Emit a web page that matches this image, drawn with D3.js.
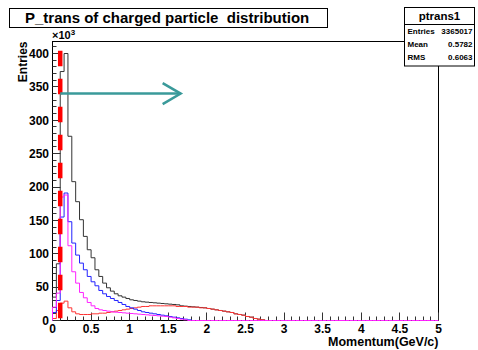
<!DOCTYPE html>
<html>
<head>
<meta charset="utf-8">
<script src="https://cdn.jsdelivr.net/npm/d3@7"></script>
<style>
  html, body { margin: 0; padding: 0; background: #fff; }
  svg { display: block; }
  text { font-family: "Liberation Sans", Arial, Helvetica, sans-serif; white-space: pre; }
</style>
</head>
<body>
<svg id="chart" width="478" height="350"></svg>
<script>
// Transverse momentum spectra, 100 bins of 0.05 GeV/c from 0 to 5, contents in units of 10^3.
const binWidth = 0.05;
const allCharged = [35, 85, 373, 400, 276, 208, 178, 151, 126, 106, 94, 76, 66, 56, 49, 44, 40, 37, 35, 33,
  31, 30, 29, 28, 27.5, 27, 26.5, 26, 25.5, 25, 24.5, 24, 23.5, 22, 21.5, 21, 20.5, 20, 19.5, 19,
  18, 17, 16, 15, 14, 13, 12, 10, 9, 8, 6, 5, 3, 2, 1, 0];
const seriesBlue = [12, 30, 155, 191, 148, 116, 98, 86, 76, 66, 58, 52, 45, 40, 36, 33, 30, 27, 24, 21,
  19, 17, 15, 13, 12, 11, 10, 9, 8, 7, 6, 5, 4, 3, 2, 1];
const seriesMagenta = [20, 41, 185, 188, 112, 73, 56, 42, 34, 27, 22, 18, 16, 15, 14, 13, 12.5, 12, 11.5, 11,
  10.5, 10, 9.5, 9, 8.5, 8, 7.5, 7, 6.5, 6, 5, 4, 3, 2, 1, 0];
const seriesRed = [3, 15, 26, 29, 19, 13, 10, 9, 9, 9, 10, 10, 11, 11, 12, 13, 14, 15, 16, 17,
  18, 19, 20, 21, 21, 22, 22, 22, 22, 22, 22, 22, 21, 21, 21, 20, 20, 20, 19, 19,
  18, 17, 16, 15, 14, 13, 12, 10, 9, 8, 6, 5, 3, 2, 1, 0];

// Axis ticks
const xTicks = [0, 0.5, 1, 1.5, 2, 2.5, 3, 3.5, 4, 4.5, 5];
const xTickLabels = ["0", "0.5", "1", "1.5", "2", "2.5", "3", "3.5", "4", "4.5", "5"];
const yTicks = [0, 50, 100, 150, 200, 250, 300, 350, 400];

// Annotations: cut line and arrow (data units)
const cutValue = 0.1;
const cutTop = 404;
const arrowFrom = [0.1, 340];
const arrowTo = [1.66, 340];

// Statistics box
const statsTitle = "ptrans1";
const statsRows = [["Entries", "3365017"], ["Mean", "0.5782"], ["RMS", "0.6063"]];
const titleText = "P_trans of charged particle  distribution";

const svg = d3.select("#chart");
const padL = 52.5, padR = 438.5, padT = 41.5, padB = 320.5;
const x = d3.scaleLinear().domain([0, 5]).range([padL, padR]);
const y = d3.scaleLinear().domain([0, 418]).range([padB, padT]);

svg.append("rect").attr("width", 478).attr("height", 350).attr("fill", "#fff");

// Frame
svg.append("rect")
  .attr("x", padL).attr("y", padT)
  .attr("width", padR - padL).attr("height", padB - padT)
  .attr("fill", "none").attr("stroke", "#000").attr("stroke-width", 1);

// Inside ticks
const xMinor = d3.range(0, 5.0001, 0.1);
svg.append("g").selectAll("line").data(xMinor).join("line")
  .attr("x1", d => Math.round(x(d) - 0.5) + 0.5).attr("x2", d => Math.round(x(d) - 0.5) + 0.5)
  .attr("y1", padB)
  .attr("y2", d => padB - (Math.abs(d * 2 - Math.round(d * 2)) < 1e-6 ? 8 : 4))
  .attr("stroke", "#333").attr("stroke-width", 1);
const yMinor = d3.range(0, 411, 10);
svg.append("g").selectAll("line").data(yMinor).join("line")
  .attr("y1", d => Math.round(y(d) - 0.5) + 0.5).attr("y2", d => Math.round(y(d) - 0.5) + 0.5)
  .attr("x1", padL)
  .attr("x2", d => padL + (d % 50 === 0 ? 8 : 4))
  .attr("stroke", "#333").attr("stroke-width", 1);

// Tick labels
svg.append("g").selectAll("text").data(xTicks).join("text")
  .attr("x", d => x(d)).attr("y", 333)
  .attr("text-anchor", "middle")
  .attr("font-size", 12).attr("font-weight", "bold")
  .text((d, i) => xTickLabels[i]);
svg.append("g").selectAll("text").data(yTicks).join("text")
  .attr("x", 49).attr("y", d => y(d) + 4.3)
  .attr("text-anchor", "end")
  .attr("font-size", 12).attr("font-weight", "bold")
  .text(d => d);

// Exponent of the y axis
const expo = svg.append("text").attr("x", 52).attr("y", 39)
  .attr("font-size", 11).attr("font-weight", "bold");
expo.append("tspan").text("\u00d710");
expo.append("tspan").attr("dy", -4).attr("font-size", 8).text("3");

// Axis titles
svg.append("text")
  .attr("transform", `translate(26.5,${padT}) rotate(-90)`)
  .attr("text-anchor", "end")
  .attr("font-size", 12).attr("font-weight", "bold")
  .text("Entries");
svg.append("text")
  .attr("x", padR).attr("y", 345.5)
  .attr("text-anchor", "end")
  .attr("font-size", 12.5).attr("font-weight", "bold")
  .text("Momentum(GeV/c)");

// Histogram outlines
function stepPath(values) {
  const pts = [[0, 0]];
  values.forEach((v, i) => { pts.push([i * binWidth, v]); });
  pts.push([values.length * binWidth, values[values.length - 1]]);
  pts.push([values.length * binWidth, 0]);
  return d3.line().x(d => x(d[0])).y(d => y(d[1])).curve(d3.curveStepAfter)(pts);
}
function withZeros(values) {
  const out = values.slice();
  while (out.length < 100) out.push(0);
  return out;
}
const plot = svg.append("g");
plot.append("path").attr("d", stepPath(allCharged)).attr("fill", "none").attr("stroke", "#333").attr("stroke-width", 1);
plot.append("path").attr("d", stepPath(seriesRed)).attr("fill", "none").attr("stroke", "#ff3333").attr("stroke-width", 1);
plot.append("path").attr("d", stepPath(seriesBlue)).attr("fill", "none").attr("stroke", "#2222ff").attr("stroke-width", 1);
plot.append("path").attr("d", stepPath(withZeros(seriesMagenta))).attr("fill", "none").attr("stroke", "#ff22ff").attr("stroke-width", 1);

// Cut line at 0.1 GeV/c
svg.append("line")
  .attr("x1", x(cutValue)).attr("x2", x(cutValue))
  .attr("y1", y(cutTop)).attr("y2", y(0))
  .attr("stroke", "#ff0000").attr("stroke-width", 4.5)
  .attr("stroke-dasharray", "15.5,12.5");

// Arrow
const ax0 = x(arrowFrom[0]), ay0 = y(arrowFrom[1]), ax1 = x(arrowTo[0]), ay1 = y(arrowTo[1]);
const arrow = svg.append("g").attr("stroke", "#3a9a9a").attr("stroke-width", 2.5).attr("fill", "none");
arrow.append("line").attr("x1", ax0).attr("y1", ay0).attr("x2", ax1).attr("y2", ay1);
arrow.append("path").attr("d", `M${ax1 - 18},${ay1 - 10.5}L${ax1},${ay1}L${ax1 - 18},${ay1 + 10.5}`);

// Title box
svg.append("rect").attr("x", 9.5).attr("y", 8.5).attr("width", 318).attr("height", 19)
  .attr("fill", "#fff").attr("stroke", "#000").attr("stroke-width", 1);
svg.append("text").attr("x", 25).attr("y", 22.7)
  .attr("font-size", 15).attr("font-weight", "bold")
  .text(titleText);

// Statistics box
const sb = svg.append("g");
sb.append("rect").attr("x", 404.5).attr("y", 7.5).attr("width", 70).attr("height", 58.5)
  .attr("fill", "#fff").attr("stroke", "#000").attr("stroke-width", 1);
sb.append("line").attr("x1", 404.5).attr("x2", 474.5).attr("y1", 24.5).attr("y2", 24.5)
  .attr("stroke", "#000");
sb.append("text").attr("x", 439.5).attr("y", 20).attr("text-anchor", "middle")
  .attr("font-size", 11.5).attr("font-weight", "bold").text(statsTitle);
statsRows.forEach((r, i) => {
  const yy = 33.5 + i * 13.3;
  sb.append("text").attr("x", 407.5).attr("y", yy).attr("font-size", 8).attr("font-weight", "bold").text(r[0]);
  sb.append("text").attr("x", 472.5).attr("y", yy).attr("text-anchor", "end").attr("font-size", 8).attr("font-weight", "bold").text(r[1]);
});
</script>
</body>
</html>
